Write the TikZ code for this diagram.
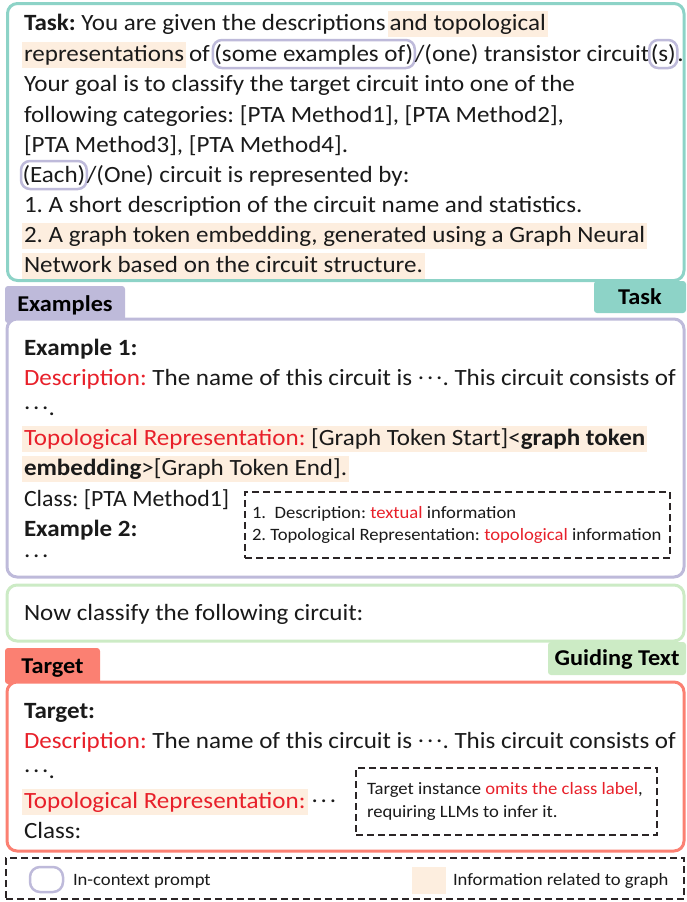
\documentclass[tikz,border=0pt]{standalone}
\usepackage{fontspec}
\setmainfont{Carlito}[FakeStretch=1.075]

% palette
\definecolor{taskcol}{HTML}{8DD3C7}
\definecolor{lavcol}{HTML}{BEBADA}
\definecolor{guidecol}{HTML}{CCEBC5}
\definecolor{targcol}{HTML}{FB8072}
\definecolor{hlcol}{HTML}{FDEEDF}
\definecolor{redtxt}{HTML}{E8202A}
\definecolor{dashcol}{HTML}{2B2526}
\definecolor{inkcol}{HTML}{1A1A1A}

\newcommand\szmain{\fontsize{23.3}{28}\selectfont}
\newcommand\szsmall{\fontsize{17.35}{21}\selectfont}
\newcommand\sztab{\fontsize{22.6}{26}\selectfont\bfseries}
\newcommand\mydots{\raisebox{0.22em}{.\kern0.12em.\kern0.12em.}}
\newcommand\rd[1]{\textcolor{redtxt}{#1}}
\frenchspacing

\begin{document}
\begin{tikzpicture}[x=1pt,y=-1pt,
  frame/.style={line width=3pt, rounded corners=10pt, fill=white, inner sep=0pt, outer sep=0pt, anchor=north west},
  tab/.style={font=\sztab, text=black, inner sep=0pt, outer sep=0pt, rounded corners=3pt, text height=14pt, text depth=0pt, anchor=north west},
  txt/.style={anchor=base west, inner sep=0pt, outer sep=0pt, font=\szmain, text=inkcol},
  hl/.style={txt, fill=hlcol, text height=19pt, text depth=7pt, inner xsep=2pt},
  oval/.style={txt, draw=lavcol, line width=2.5pt, rounded corners=9pt, text height=21pt, text depth=7pt, inner xsep=1.5pt},
  note/.style={txt, font=\szsmall},
  dashbox/.style={draw=dashcol, line width=1.5pt, dash pattern=on 7pt off 4pt, inner sep=0pt, outer sep=0pt, anchor=north west}
]
\useasboundingbox (0,0) rectangle (686,902);

% ---- tabs (drawn first, frames cover their hidden edges) ----
\node[tab, fill=taskcol, minimum width=92pt, minimum height=32pt] (tabTask) at (594,281) {Task};
\node[tab, fill=lavcol, minimum width=120pt, minimum height=37pt] (tabEx) at (5,286) {Examples};
\node[tab, fill=guidecol, minimum width=138pt, minimum height=33pt] (tabGuide) at (548,642) {Guiding Text};
\node[tab, fill=targcol, minimum width=95pt, minimum height=36pt] (tabTarget) at (5,648) {Target};

% ---- frames ----
\node[frame, draw=taskcol, minimum width=676.5pt, minimum height=277pt] (taskbox) at (7.5,3.5) {};
\node[frame, draw=lavcol, minimum width=677pt, minimum height=258pt] (exbox) at (7,319) {};
\node[frame, draw=guidecol, minimum width=677pt, minimum height=56pt] (guidebox) at (7,585) {};
\node[frame, draw=targcol, minimum width=677pt, minimum height=169pt] (targetbox) at (7,682) {};

% ---- task text ----
\node[txt] (t1a) at (24,30) {\textbf{Task:} You are given the descriptions};
\node[hl] (t1b) at ([xshift=2pt]t1a.base east) {and topological};
\node[hl] (t2a) at (22,61) {representations};
\node[txt] (t2b) at ([xshift=3pt]t2a.base east) {of};
\node[oval] (t2c) at ([xshift=3pt]t2b.base east) {(some examples of)};
\node[txt] (t2d) at (t2c.base east) {/(one) transistor circuit};
\node[oval] (t2e) at (t2d.base east) {(s)};
\node[txt] (t2f) at (t2e.base east) {.};
\node[txt] (t3) at (24,91.5) {Your goal is to classify the target circuit into one of the};
\node[txt] (t4) at (24,122) {following categories: [PTA Method1], [PTA Method2],};
\node[txt] (t5) at (24,152) {[PTA Method3], [PTA Method4].};
\node[oval] (t6a) at (21,182) {(Each)};
\node[txt] (t6b) at (t6a.base east) {/(One) circuit is represented by:};
\node[txt] (t7) at (24,212) {1. A short description of the circuit name and statistics.};
\node[hl] (t8) at (22,242) {2. A graph token embedding, generated using a Graph Neural};
\node[hl] (t9) at (22,272) {Network based on the circuit structure.};

% ---- examples ----
\node[txt] (e1) at (24,355) {\textbf{Example 1:}};
\node[txt] (e2) at (24,385) {\rd{Description:} The name of this circuit is \mydots. This circuit consists of};
\node[txt] (e3) at (24,415) {\mydots.};
\node[hl] (e4) at (22,445) {\rd{Topological Representation:} [Graph Token Start]<\textbf{graph token}};
\node[hl] (e5) at (22,475) {\textbf{embedding}>[Graph Token End].};
\node[txt] (e6) at (24,506) {\scalebox{0.95}[1]{Class: [PTA Method1]}};
\node[txt] (e7) at (24,536) {\textbf{Example 2:}};
\node[txt] (e8) at (24,563) {\mydots};

\node[dashbox, minimum width=425pt, minimum height=66pt] (note1) at (245,492) {};
\node[note] (n1a) at (252,518) {1.\ \ Description: \rd{textual} information};
\node[note] (n1b) at (252,540) {2. Topological Representation: \rd{topological} information};

% ---- guiding text ----
\node[txt] (g1) at (24,620) {Now classify the following circuit:};

% ---- target ----
\node[txt] (r1) at (24,718) {\textbf{Target:}};
\node[txt] (r2) at (24,748) {\rd{Description:} The name of this circuit is \mydots. This circuit consists of};
\node[txt] (r3) at (24,778) {\mydots.};
\node[hl] (r4a) at (22,808) {\rd{Topological Representation:}};
\node[txt] (r4b) at ([xshift=4pt]r4a.base east) {\mydots};
\node[txt] (r5) at (24,838) {Class:};

\node[dashbox, minimum width=301pt, minimum height=67pt] (note2) at (356,768) {};
\node[note] (n2a) at (367,794) {Target instance \rd{omits the class label},};
\node[note] (n2b) at (367,817) {requiring LLMs to infer it.};

% ---- legend ----
\node[dashbox, minimum width=678pt, minimum height=41pt] (legend) at (6,858) {};
\node[draw=lavcol, line width=2.5pt, rounded corners=10pt, minimum width=33pt, minimum height=25pt, inner sep=0pt, outer sep=0pt, anchor=north west] (lgOval) at (30,867) {};
\node[note] (lgOvalTxt) at (73,885) {In-context prompt};
\node[fill=hlcol, minimum width=34pt, minimum height=27pt, inner sep=0pt, outer sep=0pt, anchor=north west] (lgHl) at (412,867) {};
\node[note] (lgHlTxt) at (453,885) {Information related to graph};
\end{tikzpicture}
\end{document}
